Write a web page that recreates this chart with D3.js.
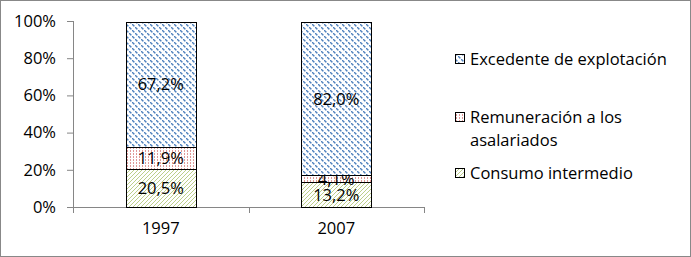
<!DOCTYPE html>
<html>
<head>
<meta charset="utf-8">
<script src="https://cdn.jsdelivr.net/npm/d3@7"></script>
<style>
  body { margin: 0; background: #fff; }
  svg text { font-family: "Open Sans", "Noto Sans", sans-serif; }
</style>
</head>
<body>
<svg id="chart" width="691" height="257"></svg>
<script>
const years = ['1997', '2007'];
const series = ['Consumo intermedio', 'Remuneración a los asalariados', 'Excedente de explotación'];
const consumo = [20.5, 13.2];
const remuneracion = [11.9, 4.1];
const excedente = [67.2, 82.0];
const yTicks = [0, 20, 40, 60, 80, 100];

const svg = d3.select('#chart');
const margin = { top: 21, left: 73, bottom: 50, right: 267 };
const width = 691, height = 257;
const fontSize = 16.5;

// outer frame
svg.append('rect').attr('x', 0.5).attr('y', 0.5).attr('width', width - 1).attr('height', height - 1)
  .attr('fill', '#fff').attr('stroke', '#888');

// patterns
const defs = svg.append('defs');
const blue = defs.append('pattern').attr('id', 'p-blue').attr('patternUnits', 'userSpaceOnUse')
  .attr('width', 6).attr('height', 6);
blue.append('rect').attr('width', 6).attr('height', 6).attr('fill', '#fff');
[[0, 0], [1, 1], [3, 3], [4, 4]].forEach(([x, y]) => blue.append('rect').attr('x', x).attr('y', y).attr('width', 1.5).attr('height', 1.5).attr('fill', '#4f81bd'));
const red = defs.append('pattern').attr('id', 'p-red').attr('patternUnits', 'userSpaceOnUse')
  .attr('width', 3).attr('height', 3);
red.append('rect').attr('width', 3).attr('height', 3).attr('fill', '#fff');
red.append('rect').attr('x', 1).attr('y', 0).attr('width', 1).attr('height', 2).attr('fill', '#e09997');
const green = defs.append('pattern').attr('id', 'p-green').attr('patternUnits', 'userSpaceOnUse')
  .attr('width', 4).attr('height', 4);
green.append('rect').attr('width', 4).attr('height', 4).attr('fill', '#fff');
// staircase "/" line, one pixel per row
[[3, 0], [2, 1], [1, 2], [0, 3]].forEach(([x, y]) => green.append('rect').attr('x', x).attr('y', y).attr('width', 1).attr('height', 1).attr('fill', '#bccf8a'));

const fills = ['url(#p-green)', 'url(#p-red)', 'url(#p-blue)'];

const x = d3.scaleBand().domain(years).range([margin.left, width - margin.right]).paddingInner(0.6).paddingOuter(0.3);
const y = d3.scaleLinear().domain([0, 100]).range([height - margin.bottom, margin.top]);

const table = years.map((yr, i) => ({ year: yr, c: consumo[i], r: remuneracion[i], e: excedente[i] }));
const stacked = d3.stack().keys(['c', 'r', 'e'])(table);

// y axis
const yAxis = svg.append('g').attr('transform', `translate(${margin.left},0)`)
  .call(d3.axisLeft(y).tickValues(yTicks).tickFormat(d => d + '%').tickSize(6).tickSizeOuter(0));
yAxis.select('.domain').attr('stroke', '#868686').attr('d', `M0.5,${margin.top}V${height - margin.bottom + 6}`);
yAxis.selectAll('.tick line').attr('stroke', '#868686');
yAxis.selectAll('.tick text').attr('font-size', fontSize).attr('fill', '#000').attr('x', -17);

// x axis
const xAxis = svg.append('g').attr('transform', `translate(0,${height - margin.bottom})`)
  .call(d3.axisBottom(x).tickSize(0).tickSizeOuter(0));
xAxis.select('.domain').attr('stroke', '#868686').attr('d', `M${margin.left},0.5H${width - margin.right}`);
xAxis.selectAll('.tick text').attr('font-size', fontSize).attr('fill', '#000').attr('dy', '1.45em');
// category separator ticks
const bounds = years.map((d, i) => margin.left + (i + 1) * (width - margin.left - margin.right) / years.length);
xAxis.selectAll('.sep').data(bounds).join('line').attr('class', 'sep')
  .attr('x1', d => Math.round(d) + 0.5).attr('x2', d => Math.round(d) + 0.5)
  .attr('y1', 0).attr('y2', 6).attr('stroke', '#868686');

// bars
const layers = svg.append('g').selectAll('g').data(stacked).join('g').attr('fill', (d, i) => fills[i]);
layers.selectAll('rect').data(d => d).join('rect')
  .attr('x', d => Math.round(x(d.data.year)) + 0.5)
  .attr('y', d => Math.round(y(d[1])) + 0.5)
  .attr('width', Math.round(x.bandwidth()))
  .attr('height', d => Math.round(y(d[0])) - Math.round(y(d[1])))
  .attr('stroke', '#000').attr('stroke-width', 1);

// labels
const fmt = v => v.toFixed(1).replace('.', ',') + '%';
layers.selectAll('text').data(d => d.map(p => ({ p, v: p[1] - p[0] }))).join('text')
  .attr('x', d => x(d.p.data.year) + x.bandwidth() / 2)
  .attr('y', d => (y(d.p[0]) + y(d.p[1])) / 2)
  .attr('dy', '0.36em')
  .attr('text-anchor', 'middle')
  .attr('font-size', fontSize)
  .attr('fill', '#000')
  .text(d => fmt(d.v));

// legend
const legendItems = [
  { name: ['Excedente de explotación'], fill: fills[2], y: 59 },
  { name: ['Remuneración a los', 'asalariados'], fill: fills[1], y: 117 },
  { name: ['Consumo intermedio'], fill: fills[0], y: 173 }
];
const lg = svg.append('g').selectAll('g').data(legendItems).join('g')
  .attr('transform', d => `translate(455,${d.y})`);
lg.append('rect').attr('x', 0.5).attr('y', -4.5).attr('width', 9).attr('height', 9)
  .attr('fill', d => d.fill).attr('stroke', '#000');
lg.append('text').attr('font-size', fontSize).attr('fill', '#000')
  .selectAll('tspan').data(d => d.name).join('tspan')
  .attr('x', 15).attr('dy', (d, i) => i === 0 ? '0.36em' : '1.4em').text(d => d);
</script>
</body>
</html>
